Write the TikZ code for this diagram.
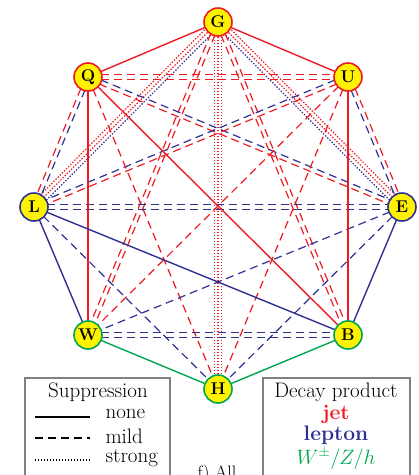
\documentclass[tikz,border=0pt]{standalone}
\usepackage{amsmath}
\usetikzlibrary{calc}

\definecolor{jetred}{RGB}{237,28,36}
\definecolor{lepblue}{RGB}{46,49,146}
\definecolor{bosgreen}{RGB}{0,166,81}
\definecolor{partyellow}{RGB}{255,242,0}

\tikzset{
  part/.style={circle, draw, line width=1.6pt, fill=partyellow, minimum size=28pt, inner sep=0pt, font=\fontsize{17}{17}\selectfont\bfseries},
  supnone/.style={line width=1.4pt},
  supmild/.style={line width=1.2pt, dash pattern=on 8pt off 5pt},
  supstrong/.style={line width=1.2pt, dash pattern=on 1.4pt off 1.6pt},
  legtext/.style={font=\fontsize{21}{24}\selectfont},
}

% one parallel line between two particles, shifted sideways by #1 pt
\newcommand{\link}[4][0]{\draw[#4] ($(#2)!#1pt!90:(#3)$) -- ($(#3)!#1pt!-90:(#2)$);}

\begin{document}
\begin{tikzpicture}[x=1pt, y=-1pt]
    \useasboundingbox (0,0) rectangle (419,475);

    \coordinate (G) at (218,22);
    \coordinate (Q) at (88,77);
    \coordinate (U) at (348,77);
    \coordinate (L) at (34,207);
    \coordinate (E) at (402,207);
    \coordinate (W) at (88,335);
    \coordinate (B) at (348,335);
    \coordinate (H) at (218,389);

    % strong
    \link[-4]{G}{L}{supstrong,jetred}
    \link[0]{G}{L}{supstrong,jetred}
    \link[4]{G}{L}{supstrong,lepblue}
    \link[4]{G}{E}{supstrong,jetred}
    \link[0]{G}{E}{supstrong,jetred}
    \link[-4]{G}{E}{supstrong,lepblue}
    \link[-3.5]{G}{H}{supstrong,jetred}
    \link[0]{G}{H}{supstrong,jetred}
    \link[3.5]{G}{H}{supstrong,jetred}

    % mild
    \link[-2.2]{G}{W}{supmild,jetred}
    \link[2.2]{G}{W}{supmild,jetred}
    \link[-2.2]{G}{B}{supmild,jetred}
    \link[2.2]{G}{B}{supmild,jetred}
    \link[-2.2]{Q}{U}{supmild,jetred}
    \link[2.2]{Q}{U}{supmild,jetred}
    \link[-2.2]{Q}{L}{supmild,jetred}
    \link[2.2]{Q}{L}{supmild,lepblue}
    \link[2.2]{U}{E}{supmild,jetred}
    \link[-2.2]{U}{E}{supmild,lepblue}
    \link[-2.2]{Q}{E}{supmild,jetred}
    \link[2.2]{Q}{E}{supmild,lepblue}
    \link[2.2]{U}{L}{supmild,jetred}
    \link[-2.2]{U}{L}{supmild,lepblue}
    \link{Q}{H}{supmild,jetred}
    \link{U}{H}{supmild,jetred}
    \link{U}{W}{supmild,jetred}
    \link[-2.2]{L}{E}{supmild,lepblue}
    \link[2.2]{L}{E}{supmild,lepblue}
    \link[-2.2]{W}{B}{supmild,lepblue}
    \link[2.2]{W}{B}{supmild,lepblue}
    \link{L}{H}{supmild,lepblue}
    \link{E}{H}{supmild,lepblue}
    \link{E}{W}{supmild,lepblue}

    % none
    \link{G}{Q}{supnone,jetred}
    \link{G}{U}{supnone,jetred}
    \link{Q}{W}{supnone,jetred}
    \link{Q}{B}{supnone,jetred}
    \link{U}{B}{supnone,jetred}
    \link{L}{W}{supnone,lepblue}
    \link{L}{B}{supnone,lepblue}
    \link{E}{B}{supnone,lepblue}
    \link{W}{H}{supnone,bosgreen}
    \link{B}{H}{supnone,bosgreen}

    % particles
    \node[part, draw=jetred] (nG) at (G) {G};
    \node[part, draw=jetred] (nQ) at (Q) {Q};
    \node[part, draw=jetred] (nU) at (U) {U};
    \node[part, draw=lepblue] (nL) at (L) {L};
    \node[part, draw=lepblue] (nE) at (E) {E};
    \node[part, draw=bosgreen] (nW) at (W) {W};
    \node[part, draw=bosgreen] (nB) at (B) {B};
    \node[part, draw=bosgreen] (nH) at (H) {H};

    % legends
    \draw[gray, line width=1.5pt] (25,378) rectangle (170,485);
    \draw[gray, line width=1.5pt] (263,378) rectangle (410,485);
    \node[legtext] (suptitle) at (98,392) {Suppression};
    \draw[supnone] (35,417) -- (90,417);
    \draw[supmild] (35,438) -- (90,438);
    \draw[supstrong] (35,460) -- (90,460);
    \node[legtext, anchor=west] (supnonet) at (102,414) {none};
    \node[legtext, anchor=west] (supmildt) at (102,436) {mild};
    \node[legtext, anchor=west] (supstrongt) at (102,458) {strong};
    \node[legtext] (dectitle) at (336,392) {Decay product};
    \node[legtext, text=jetred, font=\fontsize{21}{24}\selectfont\bfseries] (decjet) at (336,414) {jet};
    \node[legtext, text=lepblue, font=\fontsize{21}{24}\selectfont\bfseries] (declep) at (336,435) {lepton};
    \node[legtext, text=bosgreen] (decbos) at (336,459) {$W^\pm/Z/h$};
    \node[anchor=base, font=\fontsize{18}{20}\selectfont] (panel) at (217,478) {f) All};
\end{tikzpicture}
\end{document}
